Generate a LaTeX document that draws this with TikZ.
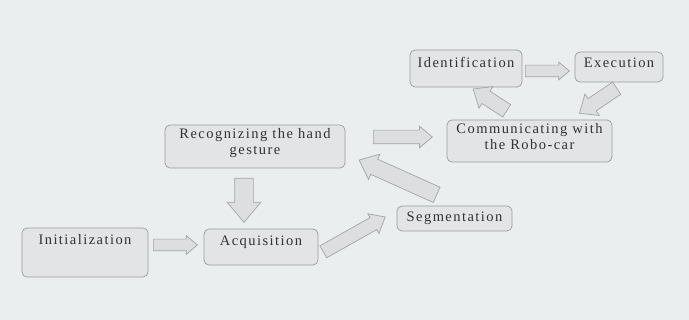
\documentclass[tikz,border=0pt]{standalone}
\usepackage{fontspec}
\setmainfont{Liberation Serif}[LetterSpace=10]
\usetikzlibrary{shapes.arrows}
\definecolor{bg}{HTML}{EBEEEF}
\definecolor{boxfill}{HTML}{E2E4E5}
\definecolor{boxline}{HTML}{9A9C9D}
\definecolor{txt}{HTML}{333333}
\definecolor{arrfill}{HTML}{DCDEDF}
\definecolor{arrline}{HTML}{A2A4A5}
\tikzset{
  box/.style={draw=boxline, fill=boxfill, rounded corners=5pt, line width=0.7pt, inner sep=0pt},
  lbl/.style={text=txt, font=\fontsize{14.5}{15.5}\selectfont, inner sep=0pt, align=center},
  barrow/.style={single arrow, draw=arrline, fill=arrfill, line width=0.7pt, inner xsep=0pt,
    single arrow tip angle=80, anchor=tail},
}
\newcommand{\blockarrow}[7]{%
  % name, tail, angle, length, head width, body width
  \node[barrow, minimum height=#4, inner ysep=#6/2, single arrow head extend=#5/2-#6/2, rotate=#3] (#1) at (#2) {};}
\begin{document}
\begin{tikzpicture}[x=1pt,y=-1pt]
\fill[bg] (0,0) rectangle (689,320);
\useasboundingbox (0,0) rectangle (689,320);
% boxes
\node[box, minimum width=126pt, minimum height=49pt] (init) at (85,252.5) {};
\node[lbl, anchor=north] (tinit) at ([yshift=-7pt]init.north) {Initialization};
\node[box, minimum width=114pt, minimum height=36pt] (acq) at (261,247) {};
\node[lbl, anchor=north] (tacq) at ([yshift=-7pt]acq.north) {Acquisition};
\node[box, minimum width=180pt, minimum height=43pt] (rec) at (255,146.5) {};
\node[lbl, anchor=north] (trec) at ([yshift=-4pt]rec.north) {Recognizing the hand\\gesture};
\node[box, minimum width=115pt, minimum height=25pt] (seg) at (454.5,218.5) {};
\node[lbl] (tseg) at ([yshift=0.5pt]seg.center) {Segmentation};
\node[box, minimum width=165pt, minimum height=42pt] (comm) at (529.5,141) {};
\node[lbl, anchor=north] (tcomm) at ([yshift=-4pt]comm.north) {Communicating with\\the Robo-car};
\node[box, minimum width=112pt, minimum height=37pt] (ident) at (466,68.5) {};
\node[lbl, anchor=north] (tident) at ([yshift=-7pt]ident.north) {Identification};
\node[box, minimum width=88pt, minimum height=30pt] (exec) at (619,67) {};
\node[lbl, anchor=north] (texec) at ([yshift=-6pt]exec.north) {Execution};
% block arrows
\coordinate (t1) at (153,245);
\coordinate (t2) at (244,178);
\coordinate (t3) at (323,252);
\coordinate (t4) at (437,195);
\coordinate (t5) at (373,137);
\coordinate (t6) at (507,111);
\coordinate (t7) at (525,71);
\coordinate (t8) at (617,88);
\blockarrow{a1}{t1}{0}{44pt}{18pt}{11pt}{}
\blockarrow{a2}{t2}{-90}{44pt}{33pt}{18pt}{}
\blockarrow{a3}{t3}{29.4}{71pt}{22pt}{13pt}{}
\blockarrow{a4}{t4}{155.8}{85pt}{27pt}{16pt}{}
\blockarrow{a5}{t5}{0}{59pt}{21pt}{13pt}{}
\blockarrow{a6}{t6}{147}{40pt}{25pt}{14pt}{}
\blockarrow{a7}{t7}{0}{44pt}{17pt}{11pt}{}
\blockarrow{a8}{t8}{-146}{45pt}{25pt}{14pt}{}
\end{tikzpicture}
\end{document}
